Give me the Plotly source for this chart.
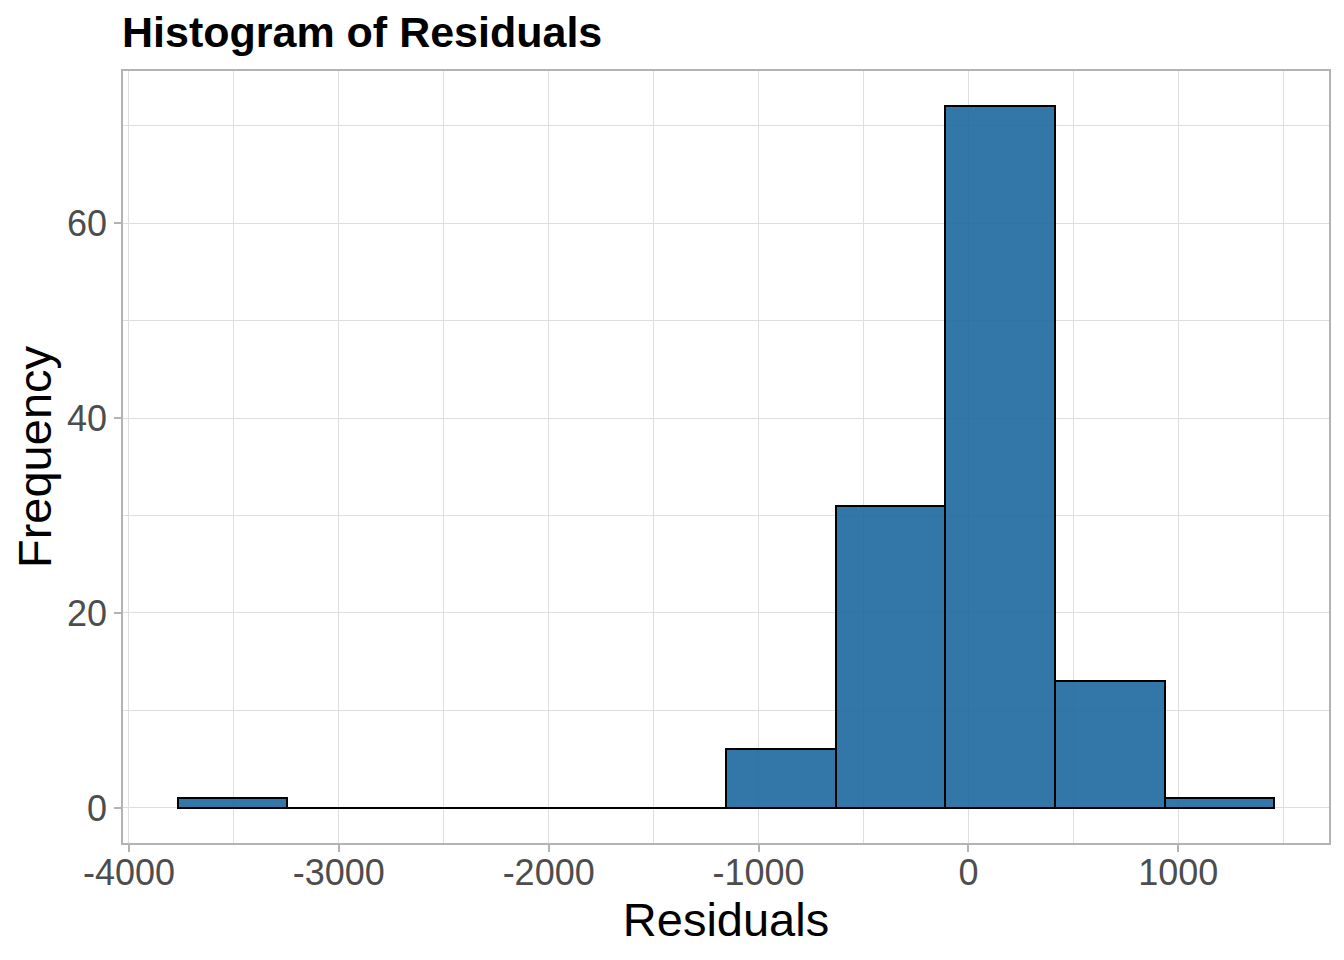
import plotly.graph_objects as go

# Histogram bin edges and counts per bin
bin_edges = [-3767, -3245, -2722, -2200, -1677, -1155, -633, -110, 412, 935, 1457]
counts = [1, 0, 0, 0, 0, 6, 31, 72, 13, 1]

x_ticks = [-4000, -3000, -2000, -1000, 0, 1000]
y_ticks = [0, 20, 40, 60]

centers = [(a + b) / 2 for a, b in zip(bin_edges[:-1], bin_edges[1:])]
widths = [b - a for a, b in zip(bin_edges[:-1], bin_edges[1:])]

fig = go.Figure()
# zero-count bins drawn as baseline outline (as ggplot does)
fig.add_trace(go.Scatter(
    x=[bin_edges[0], bin_edges[-1]], y=[0, 0], mode="lines",
    line=dict(color="black", width=2), showlegend=False, hoverinfo="skip",
))
fig.add_trace(go.Bar(
    x=centers, y=counts, width=widths,
    marker=dict(color="rgba(29,103,158,0.9)", line=dict(color="black", width=2)),
    showlegend=False,
))

span_x = bin_edges[-1] - bin_edges[0]
span_y = max(counts)
grid = "#DEDEDE"
frame = "#B3B3B3"

W, H = 1336, 952  # page body adds an 8px offset

fig.update_layout(
    width=W, height=H,
    margin=dict(l=115, r=15, t=63, b=117),
    paper_bgcolor="white", plot_bgcolor="white",
    font=dict(family="Liberation Sans, Arial, sans-serif"),
    title=dict(text="<b>Histogram of Residuals</b>", x=114 / W, xanchor="left",
               y=1 - 24 / H, yanchor="middle",
               font=dict(size=43, color="black")),
    bargap=0,
    xaxis=dict(
        range=[bin_edges[0] - 0.05 * span_x, bin_edges[-1] + 0.05 * span_x],
        tickvals=x_ticks, ticktext=[str(v) for v in x_ticks],
        tickfont=dict(size=36, color="#4D4D4D"),
        ticks="outside", ticklen=7, tickcolor=frame, tickwidth=1.5,
        ticklabelstandoff=-10,
        showgrid=True, gridcolor=grid, gridwidth=1,
        minor=dict(dtick=500, tick0=0, showgrid=True, gridcolor=grid, gridwidth=1, ticks=""),
        showline=True, linecolor=frame, linewidth=1.5, mirror=True,
        zeroline=False,
        title=dict(text="Residuals", font=dict(size=47, color="black"), standoff=6),
        automargin=False,
    ),
    yaxis=dict(
        range=[-0.05 * span_y, span_y * 1.05],
        tickvals=y_ticks, ticktext=[str(v) for v in y_ticks],
        tickfont=dict(size=36, color="#4D4D4D"),
        ticks="outside", ticklen=7, tickcolor=frame, tickwidth=1.5,
        showgrid=True, gridcolor=grid, gridwidth=1,
        minor=dict(dtick=10, tick0=0, showgrid=True, gridcolor=grid, gridwidth=1, ticks=""),
        showline=True, linecolor=frame, linewidth=1.5, mirror=True,
        zeroline=False,
        title=dict(text="Frequency", font=dict(size=47, color="black"), standoff=3),
        automargin=False,
    ),
)

fig.write_html("out.html")
